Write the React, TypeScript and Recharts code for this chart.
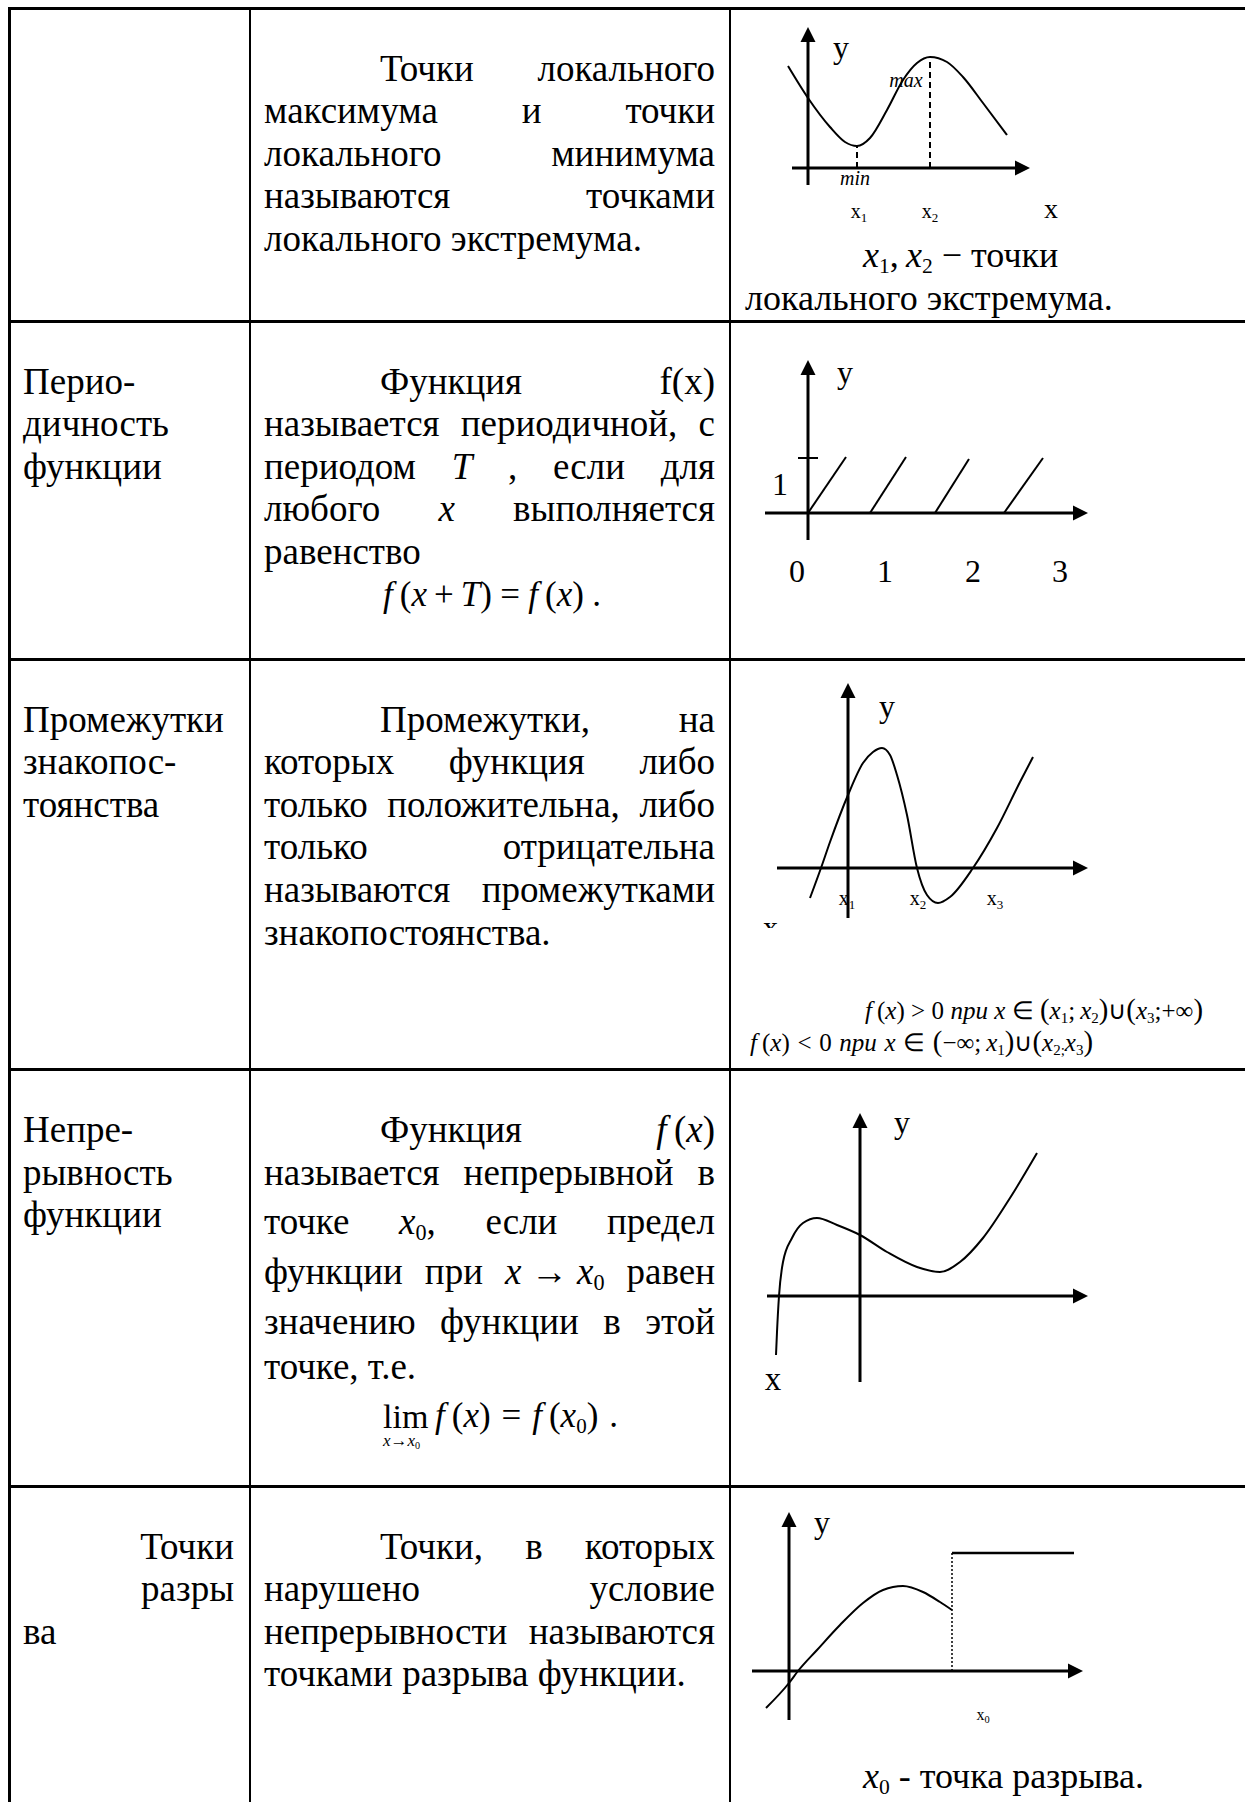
import React from "react";
import { LineChart, Line, XAxis, YAxis, ReferenceLine, ReferenceDot } from "recharts";

const FONT = '"Liberation Serif", "Times New Roman", Times, serif';

// sketch units: 1 unit = 10 px, the axes cross at (0, 0)

// local extrema sketch
const extremaCurve = [
  { x: -2.0, y: 10.2 }, { x: 0, y: 7.0 }, { x: 2.2, y: 4.1 }, { x: 3.7, y: 2.6 },
  { x: 4.9, y: 2.2 }, { x: 6.2, y: 3.0 }, { x: 7.9, y: 5.8 }, { x: 9.5, y: 8.8 },
  { x: 10.9, y: 10.5 }, { x: 12.2, y: 11.1 }, { x: 13.9, y: 10.6 }, { x: 15.5, y: 9.1 },
  { x: 17.5, y: 6.5 }, { x: 19.9, y: 3.3 },
];
const extremaMin = { x: 4.9, y: 2.2 };
const extremaMax = { x: 12.2, y: 11.1 };

// periodic sketch
const periodTeeth = [
  { x0: 0, x1: 3.8, y1: 5.6 },
  { x0: 6.2, x1: 9.8, y1: 5.6 },
  { x0: 12.7, x1: 16.1, y1: 5.4 },
  { x0: 19.6, x1: 23.5, y1: 5.5 },
];
const periodUnitY = 5.5;
const periodTickLabels = ["0", "1", "2", "3"];
const periodTickX = [-1.1, 7.7, 16.5, 25.2];

// sign intervals sketch
const signCurve = [
  { x: -3.8, y: -3.0 }, { x: -2.7, y: 0 }, { x: -1.8, y: 2.6 }, { x: 0, y: 7.3 },
  { x: 1.5, y: 10.5 }, { x: 2.5, y: 11.6 }, { x: 3.4, y: 12.0 }, { x: 4.2, y: 11.3 },
  { x: 4.9, y: 9.3 }, { x: 5.9, y: 5.3 }, { x: 6.9, y: 0 }, { x: 7.9, y: -2.7 },
  { x: 9.0, y: -3.5 }, { x: 10.2, y: -2.9 }, { x: 12.5, y: 0 }, { x: 14.9, y: 4.0 },
  { x: 17.2, y: 8.6 }, { x: 18.5, y: 11.1 },
];
const signRootLabels = ["1", "2", "3"];
const signRootX = [-0.1, 7.0, 14.7];

// continuity sketch
const contCurve = [
  { x: -8.4, y: -5.9 }, { x: -8.3, y: -3.6 }, { x: -8.1, y: 0 }, { x: -7.7, y: 3.4 },
  { x: -6.8, y: 5.8 }, { x: -5.7, y: 7.3 }, { x: -4.3, y: 7.8 }, { x: -2.3, y: 7.1 },
  { x: 0, y: 6.1 }, { x: 2.7, y: 4.4 }, { x: 5.7, y: 2.9 }, { x: 8.0, y: 2.4 },
  { x: 10.0, y: 3.4 }, { x: 12.3, y: 5.8 }, { x: 15.0, y: 9.8 }, { x: 17.7, y: 14.3 },
];

// discontinuity sketch
const jumpCurve = [
  { x: -2.3, y: -3.7 }, { x: 0, y: -1.2 }, { x: 0.9, y: 0 }, { x: 2.8, y: 2.1 },
  { x: 5.1, y: 4.6 }, { x: 7.4, y: 6.8 }, { x: 9.4, y: 8.1 }, { x: 11.4, y: 8.5 },
  { x: 13.4, y: 7.9 }, { x: 15.1, y: 6.9 }, { x: 16.3, y: 6.1 },
];
const jumpStep = [{ x: 16.3, y: 11.8 }, { x: 28.5, y: 11.8 }];

type Frame = { left: number; top: number; width: number; height: number; ox: number; oy: number };
const PX = 10;

const arrowRight = (p: any) => (
  <polygon points={`${p.cx},${p.cy} ${p.cx - 15},${p.cy - 7.5} ${p.cx - 15},${p.cy + 7.5}`} fill="#000" />
);
const arrowUp = (p: any) => (
  <polygon points={`${p.cx},${p.cy} ${p.cx - 7.5},${p.cy + 15} ${p.cx + 7.5},${p.cy + 15}`} fill="#000" />
);

function label(text: string, size: number, italic = false, sub?: string) {
  return (p: any) => (
    <text x={p.cx} y={p.cy} textAnchor="middle" fontSize={size} fontFamily={FONT} fontStyle={italic ? "italic" : "normal"} fill="#000">
      {text}
      {sub ? <tspan fontSize={size * 0.65} dy={size * 0.18}>{sub}</tspan> : null}
    </text>
  );
}

function dot(key: string, x: number, y: number, shape: (p: any) => React.ReactElement) {
  return <ReferenceDot key={key} x={x} y={y} r={0} ifOverflow="visible" shape={shape} />;
}

function seg(key: string, a: { x: number; y: number }, b: { x: number; y: number }, width = 3, dash?: string) {
  return (
    <ReferenceLine key={key} segment={[a, b]} stroke="#000" strokeWidth={width} strokeDasharray={dash} ifOverflow="visible" />
  );
}

function axes(xFrom: number, xTip: number, yFrom: number, yTip: number) {
  return [
    seg("ax", { x: xFrom, y: 0 }, { x: xTip - 1, y: 0 }),
    seg("ay", { x: 0, y: yFrom }, { x: 0, y: yTip - 1 }),
    dot("tx", xTip, 0, arrowRight),
    dot("ty", 0, yTip, arrowUp),
  ];
}

function curve(key: string, data: { x: number; y: number }[], width = 2, type: any = "monotone") {
  return (
    <Line key={key} data={data} dataKey="y" type={type} stroke="#000" strokeWidth={width} dot={false} activeDot={false} isAnimationActive={false} />
  );
}

function Sketch({ frame, children }: { frame: Frame; children: React.ReactNode }) {
  const xDom = [(frame.left - frame.ox) / PX, (frame.left + frame.width - frame.ox) / PX];
  const yDom = [(frame.oy - frame.top - frame.height) / PX, (frame.oy - frame.top) / PX];
  return (
    <div style={{ position: "absolute", left: frame.left, top: frame.top }}>
      <LineChart width={frame.width} height={frame.height} margin={{ top: 0, right: 0, bottom: 0, left: 0 }}>
        <XAxis type="number" dataKey="x" domain={xDom} hide allowDataOverflow />
        <YAxis type="number" domain={yDom} hide allowDataOverflow />
        {children}
      </LineChart>
    </div>
  );
}

const subStyle: React.CSSProperties = { fontSize: "0.6em", position: "relative", top: "0.28em", fontStyle: "normal" };
const X = ({ s }: { s?: string }) => (
  <span>
    <i>x</i>
    {s ? <span style={subStyle}>{s}</span> : null}
  </span>
);
const P = ({ c }: { c: string }) => <span style={{ fontSize: "1.15em", lineHeight: 0 }}>{c}</span>;

type Mode = "justify" | "left" | "right";
function TextLine({ x, w, b, words, mode = "justify", indent = 0, size = 37, lh = 44 }: { x: number; w: number; b: number; words: React.ReactNode[]; mode?: Mode; indent?: number; size?: number; lh?: number }) {
  const top = b - ((lh - 1.107 * size) / 2 + 0.891 * size);
  return (
    <div
      style={{
        position: "absolute", left: x, top, width: w, height: lh, fontSize: size, lineHeight: `${lh}px`,
        display: "flex", alignItems: "baseline", boxSizing: "border-box", paddingLeft: indent, whiteSpace: "nowrap",
        justifyContent: mode === "justify" ? "space-between" : mode === "right" ? "flex-end" : "flex-start",
        columnGap: mode === "justify" ? 0 : "0.25em",
      }}
    >
      {words.map((wd, i) => <span key={i}>{wd}</span>)}
    </div>
  );
}

const words = (s: string) => s.split(" ");
const L = { x: 23, w: 211 };
const M = { x: 264, w: 451 };
const IND = 116;

const hLines = [7, 320, 658, 1068, 1485];
const vLines = [{ x: 8, w: 3 }, { x: 249, w: 2 }, { x: 729, w: 2 }];

export default function App() {
  return (
    <div style={{ position: "absolute", left: 0, top: 0, width: 1245, height: 1802, overflow: "hidden", background: "#fff", color: "#000", fontFamily: FONT }}>
      {hLines.map((y) => (
        <div key={"h" + y} style={{ position: "absolute", left: 8, top: y, width: 1245, height: 3, background: "#000" }} />
      ))}
      {vLines.map((v) => (
        <div key={"v" + v.x} style={{ position: "absolute", left: v.x, top: 7, width: v.w, height: 1802, background: "#000" }} />
      ))}

      {/* row 1 */}
      <TextLine {...M} b={81} indent={IND} words={words("Точки локального")} />
      <TextLine {...M} b={123.6} words={words("максимума и точки")} />
      <TextLine {...M} b={166.2} words={words("локального минимума")} />
      <TextLine {...M} b={208.8} words={words("называются точками")} />
      <TextLine {...M} b={251.4} mode="left" words={words("локального экстремума.")} />

      {/* row 2 */}
      <TextLine {...L} b={394} mode="left" words={["Перио-"]} />
      <TextLine {...L} b={436.6} mode="left" words={["дичность"]} />
      <TextLine {...L} b={479.2} mode="left" words={["функции"]} />
      <TextLine {...M} b={394} indent={IND} words={["Функция", "f(x)"]} />
      <TextLine {...M} b={436.6} words={words("называется периодичной, с")} />
      <TextLine {...M} b={479.2} words={["периодом", <i>T</i>, ",", "если", "для"]} />
      <TextLine {...M} b={521.8} words={["любого", <i>x</i>, "выполняется"]} />
      <TextLine {...M} b={564.4} mode="left" words={["равенство"]} />
      <TextLine x={383} w={218} b={607} size={35}
        words={[<span><i>f</i>&thinsp;(<i>x</i>&thinsp;+&thinsp;<i>T</i>)</span>, "=", <span><i>f</i>&thinsp;(<i>x</i>)</span>, "."]} />

      {/* row 3 */}
      <TextLine {...L} b={732} mode="left" words={["Промежутки"]} />
      <TextLine {...L} b={774.6} mode="left" words={["знакопос-"]} />
      <TextLine {...L} b={817.2} mode="left" words={["тоянства"]} />
      <TextLine {...M} b={732} indent={IND} words={words("Промежутки, на")} />
      <TextLine {...M} b={774.6} words={words("которых функция либо")} />
      <TextLine {...M} b={817.2} words={words("только положительна, либо")} />
      <TextLine {...M} b={859.8} words={words("только отрицательна")} />
      <TextLine {...M} b={902.4} words={words("называются промежутками")} />
      <TextLine {...M} b={945} mode="left" words={["знакопостоянства."]} />

      {/* row 4 */}
      <TextLine {...L} b={1142} mode="left" words={["Непре-"]} />
      <TextLine {...L} b={1185} mode="left" words={["рывность"]} />
      <TextLine {...L} b={1227} mode="left" words={["функции"]} />
      <TextLine {...M} b={1142} indent={IND} words={["Функция", <span><i>f</i>&thinsp;(<i>x</i>)</span>]} />
      <TextLine {...M} b={1185} words={words("называется непрерывной в")} />
      <TextLine {...M} b={1234} words={["точке", <span><X s="0" />,</span>, "если", "предел"]} />
      <TextLine {...M} b={1284} words={["функции", "при", <span><i>x</i> → <X s="0" /></span>, "равен"]} />
      <TextLine {...M} b={1334} words={words("значению функции в этой")} />
      <TextLine {...M} b={1379} mode="left" words={words("точке, т.е.")} />
      <TextLine x={383} w={60} b={1428} size={34} lh={36} mode="left" words={["lim"]} />
      <TextLine x={383} w={60} b={1447} size={17} lh={18} mode="left" words={[<span><i>x</i>→<X s="0" /></span>]} />
      <TextLine x={435} w={183} b={1428} size={35}
        words={[<span><i>f</i>&thinsp;(<i>x</i>)</span>, "=", <span><i>f</i>&thinsp;(<X s="0" />)</span>, "."]} />

      {/* row 5 */}
      <TextLine {...L} b={1559} mode="right" words={["Точки"]} />
      <TextLine {...L} b={1601.6} mode="right" words={["разры"]} />
      <TextLine {...L} b={1644.2} mode="left" words={["ва"]} />
      <TextLine {...M} b={1559} indent={IND} words={words("Точки, в которых")} />
      <TextLine {...M} b={1601.6} words={words("нарушено условие")} />
      <TextLine {...M} b={1644.2} words={words("непрерывности называются")} />
      <TextLine {...M} b={1686.8} mode="left" words={words("точками разрыва функции.")} />

      {/* sketches */}
      <Sketch frame={{ left: 731, top: 10, width: 514, height: 310, ox: 808, oy: 168 }}>
        {axes(-1.6, 22.2, -1.7, 14.1)}
        {curve("c", extremaCurve)}
        {seg("d1", { x: extremaMin.x, y: 0 }, extremaMin, 2, "6 4")}
        {seg("d2", { x: extremaMax.x, y: 0 }, extremaMax, 2, "6 4")}
        {dot("ly", 3.3, 11.0, label("y", 32))}
        {dot("lmax", 9.8, 8.1, label("max", 20, true))}
        {dot("lmin", 4.7, -1.7, label("min", 20, true))}
        {dot("lx1", 5.1, -5.0, label("x", 20, false, "1"))}
        {dot("lx2", 12.2, -5.0, label("x", 20, false, "2"))}
        {dot("lx", 24.3, -5.0, label("x", 28))}
      </Sketch>
      <TextLine x={863} w={260} b={267} size={36} mode="left" words={[<span><X s="1" />,&thinsp;<X s="2" /> −</span>, "точки"]} />
      <TextLine x={745} w={420} b={310} size={36} mode="left" words={words("локального экстремума.")} />

      <Sketch frame={{ left: 731, top: 323, width: 514, height: 335, ox: 808, oy: 513 }}>
        {axes(-4.3, 28.0, -2.7, 15.3)}
        {seg("tick", { x: -1.0, y: periodUnitY }, { x: 1.0, y: periodUnitY }, 2)}
        {periodTeeth.map((t, i) => curve("t" + i, [{ x: t.x0, y: 0 }, { x: t.x1, y: t.y1 }], 2, "linear"))}
        {dot("ly", 3.7, 13.0, label("y", 32))}
        {dot("l1", -2.8, 1.8, label("1", 32))}
        {periodTickLabels.map((t, i) => dot("pt" + i, periodTickX[i], -6.9, label(t, 32)))}
      </Sketch>

      <Sketch frame={{ left: 731, top: 661, width: 514, height: 407, ox: 848, oy: 868 }}>
        {axes(-7.1, 24.0, -5.0, 18.5)}
        {curve("c", signCurve)}
        {dot("ly", 3.9, 15.1, label("y", 32))}
        {signRootLabels.map((s, i) => dot("r" + i, signRootX[i], -3.7, label("x", 20, false, s)))}
      </Sketch>
      <div style={{ position: "absolute", left: 763, top: 921, width: 20, height: 7, overflow: "hidden" }}>
        <div style={{ fontSize: 30, lineHeight: "30px", marginTop: -9 }}>x</div>
      </div>
      <TextLine x={865} w={338} b={1019} size={25} lh={28}
        words={[<span><i>f</i>&thinsp;(<i>x</i>)</span>, ">", "0", <i>при</i>, <i>x</i>, "∈",
          <span><P c="(" /><X s="1" />;&thinsp;<X s="2" /><P c=")" />∪<P c="(" /><X s="3" />;+∞<P c=")" /></span>]} />
      <TextLine x={750} w={343} b={1051} size={25} lh={28}
        words={[<span><i>f</i>&thinsp;(<i>x</i>)</span>, "<", "0", <i>при</i>, <i>x</i>, "∈",
          <span><P c="(" />−∞;&thinsp;<X s="1" /><P c=")" />∪<P c="(" /><X s="2;" /><X s="3" /><P c=")" /></span>]} />

      <Sketch frame={{ left: 731, top: 1071, width: 514, height: 414, ox: 860, oy: 1296 }}>
        {axes(-9.3, 22.8, -8.6, 18.3)}
        {curve("c", contCurve)}
        {dot("ly", 4.2, 16.3, label("y", 32))}
        {dot("lx", -8.7, -9.4, label("x", 33))}
      </Sketch>

      <Sketch frame={{ left: 731, top: 1488, width: 514, height: 314, ox: 789, oy: 1671 }}>
        {axes(-3.7, 29.4, -4.9, 15.9)}
        {curve("c", jumpCurve)}
        {curve("s", jumpStep, 2.5, "linear")}
        {seg("dot", { x: jumpStep[0].x, y: 0 }, jumpStep[0], 1.5, "2 2")}
        {dot("ly", 3.3, 13.8, label("y", 32))}
        {dot("lx0", 19.4, -4.9, label("x", 16, false, "0"))}
      </Sketch>
      <TextLine x={863} w={320} b={1788} size={36} mode="left" words={[<X s="0" />, "-", "точка", "разрыва."]} />
    </div>
  );
}
